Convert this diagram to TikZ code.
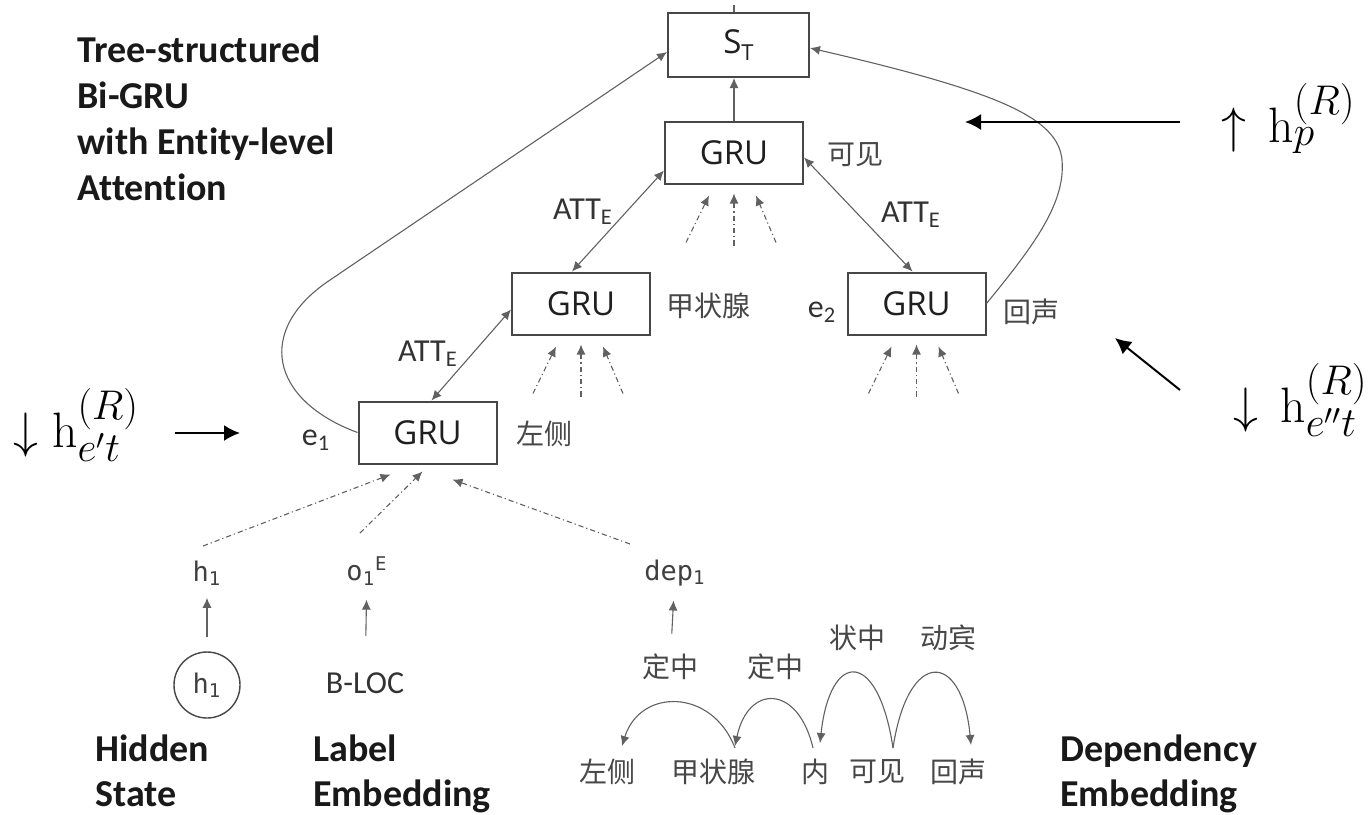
\documentclass[tikz,border=0pt]{standalone}
\usepackage[no-math]{fontspec}
\setmainfont[Ligatures={NoCommon}]{Carlito}
\newfontfamily\cjk{Noto Sans CJK SC}
\newfontfamily\osans{Open Sans}
\newfontfamily\monofam{DejaVu Sans Mono}
\usetikzlibrary{arrows.meta,calc}

\tikzset{
  grubox/.style={draw=black!72, line width=1pt, minimum width=69pt, minimum height=31pt,
    inner sep=0pt, text=black!88, font=\osans\fontsize{16.5}{18}\selectfont},
  zh/.style={text=black!72, inner sep=0pt, font=\cjk\fontsize{14}{16}\selectfont},
  lbl/.style={text=black!80, inner sep=0pt, font=\fontsize{16}{18}\selectfont},
  vec/.style={text=black!75, inner sep=0pt, font=\monofam\fontsize{13.5}{15}\selectfont},
  heading/.style={anchor=base west, inner sep=0pt, text=black!90,
    font=\bfseries\fontsize{19}{21}\selectfont},
  mathlbl/.style={anchor=base west, inner sep=0pt, font=\fontsize{28}{32}\selectfont},
  link/.style={draw=black!62, line width=0.55pt, -{Latex[length=5pt,width=4.5pt]}},
  twoway/.style={link, {Latex[length=5pt,width=4.5pt]}-{Latex[length=5pt,width=4.5pt]}},
  feed/.style={link, dash pattern=on 2.6pt off 1.5pt on 0.6pt off 1.5pt},
  bigarrow/.style={draw=black, line width=1pt, -{Latex[length=8pt,width=8pt]}},
}

\begin{document}
\begin{tikzpicture}[x=0.5pt,y=-0.5pt]
\useasboundingbox (0,0) rectangle (1370,814);

% heading, top left
\node[heading] (t1) at (77,62) {Tree-structured};
\node[heading] (t2) at (77,108) {Bi-GRU};
\node[heading] (t3) at (77,154) {with Entity-level};
\node[heading] (t4) at (77,200) {Attention};

% sentence state and GRU cells
\node[grubox, minimum width=70.5pt, minimum height=32pt] (st) at (738.5,45) {S\raisebox{-0.35ex}{\fontsize{11}{12}\selectfont T}};
\node[grubox] (gp) at (734,152.5) {GRU};
\node[grubox] (gt) at (581,303.5) {GRU};
\node[grubox] (ge) at (916.5,303.5) {GRU};
\node[grubox] (gl) at (427.5,432.5) {GRU};

% word and entity labels beside the cells
\node[zh] (wp) at (855,155) {可见};
\node[zh] (wt) at (708,306) {甲状腺};
\node[zh] (we) at (1031,312) {回声};
\node[zh] (wl) at (544,434) {左侧};
\node[lbl] (e1) at (316,440) {e\textsubscript{1}};
\node[lbl] (e2) at (822,312) {e\textsubscript{2}};

% tick on top of the sentence state
\coordinate (sttop) at (734,5);
\draw[draw=black!62, line width=0.55pt] (sttop) -- (sttop |- st.north);

% upward link to the sentence state
\draw[link] (gp.north) -- (gp.north |- st.south);

% attention links
\draw[twoway] ([xshift=-4.5pt]gt.north) -- ([yshift=7pt]gp.south west);
\draw[twoway] ([xshift=2pt]gl.north) -- ([yshift=-3pt]gt.west);
\draw[twoway] ([xshift=-2pt]ge.north) -- ([yshift=-2.5pt]gp.east);
\node[lbl] (a1) at (583,212) {ATT\textsubscript{E}};
\node[lbl] (a2) at (428,354) {ATT\textsubscript{E}};
\node[lbl] (a3) at (911,215) {ATT\textsubscript{E}};

% long links from the entity cells to the sentence state
\coordinate (lbend) at (330,280);
\draw[link] (gl.west) .. controls (270,400) and (255,330) .. (lbend)
  -- ([yshift=-3.5pt]st.west);
\coordinate (rbend) at (1062,160);
\draw[link] (ge.east) .. controls (1030,250) and (1066,205) .. (rbend)
  .. controls (1058,118) and (1000,92) .. ([yshift=-1.5pt]st.east);

% dash-dotted inputs under the upper cells
\foreach \b in {gp,gt,ge} {
  \coordinate (\b-s1) at ($(\b.south)+(-48,58)$);
  \coordinate (\b-s2) at ($(\b.south)+(0,61)$);
  \coordinate (\b-s3) at ($(\b.south)+(42,58)$);
  \coordinate (\b-e1) at ($(\b.south)+(-25,11)$);
  \coordinate (\b-e2) at ($(\b.south)+(0,9)$);
  \coordinate (\b-e3) at ($(\b.south)+(22,11)$);
  \draw[feed] (\b-s1) -- (\b-e1);
  \draw[feed] (\b-s2) -- (\b-e2);
  \draw[feed] (\b-s3) -- (\b-e3);
}

% inputs of the first entity cell
\node[vec] (h1) at (207,573) {h\textsubscript{1}};
\node[vec] (o1) at (367,571) {o\textsubscript{1}\textsuperscript{E}};
\node[vec] (dep) at (675,573) {dep\textsubscript{1}};
\coordinate (hs) at (203,546);
\coordinate (os) at (360,533);
\coordinate (ds) at (630,544);
\draw[feed] (hs) -- ($(gl.south)+(-37,10)$);
\draw[feed] (os) -- ($(gl.south)+(-5,7)$);
\draw[feed] (ds) -- ($(gl.south)+(25,15)$);

% sources of the inputs
\node[circle, draw=black!72, line width=0.7pt, minimum size=33pt, inner sep=0pt,
  vec] (hc) at (207,685) {h\textsubscript{1}};
\node[lbl] (bloc) at (365,683) {B-LOC};
\node[zh] (dz) at (670,667) {定中};
\draw[link, shorten <=7pt, shorten >=6pt] (hc) -- (h1);
\draw[link, shorten <=18pt, shorten >=7pt] (bloc) -- (o1);
\draw[link, shorten <=10pt, shorten >=7pt] (dz) -- (dep);

% dependency parse of the sentence
\node[zh] (w1) at (607,772) {左侧};
\node[zh] (w2) at (713,772) {甲状腺};
\node[zh] (w3) at (815,772) {内};
\node[zh] (w4) at (877,772) {可见};
\node[zh] (w5) at (958,772) {回声};
\node[zh] (r2) at (775,667) {定中};
\node[zh] (r3) at (857,638) {状中};
\node[zh] (r4) at (948,638) {动宾};
\coordinate (w1top) at (622,746);
\coordinate (w2top) at (735,746);
\coordinate (w2left) at (735,748);
\coordinate (w3top) at (813,748);
\coordinate (w3in) at (820,743);
\coordinate (w4top) at (893,748);
\coordinate (w5top) at (971,745);
\draw[link] (w2left) .. controls (712,688) and (640,688) .. (w1top);
\draw[link] (w3top) .. controls (798,684) and (748,684) .. (w2top);
\draw[link] (w4top) .. controls (878,648) and (830,650) .. (w3in);
\draw[link] (w4top) .. controls (908,648) and (962,650) .. (w5top);

% bottom headings
\node[heading] (b1) at (95,761) {Hidden};
\node[heading] (b2) at (95,806) {State};
\node[heading] (b3) at (313,761) {Label};
\node[heading] (b4) at (313,806) {Embedding};
\node[heading] (b5) at (1060,761) {Dependency};
\node[heading] (b6) at (1060,806) {Embedding};

% hidden-state direction labels and pointers
\node[mathlbl] (mp) at (1221,142) {$\uparrow\, \mathrm{h}_{p}^{(R)}$};
\node[mathlbl] (me2) at (1233,422) {$\downarrow\, \mathrm{h}_{e''t}^{(R)}$};
\node[mathlbl] (me1) at (13,447) {$\downarrow \mathrm{h}_{e't}^{(R)}$};
\coordinate (pa) at (1180,122);
\coordinate (pb) at (965,122);
\coordinate (qa) at (1180,390);
\coordinate (qb) at (1115,338);
\coordinate (ra) at (175,433);
\coordinate (rb) at (240,433);
\draw[bigarrow] (pa) -- (pb);
\draw[bigarrow] (qa) -- (qb);
\draw[bigarrow] (ra) -- (rb);
\end{tikzpicture}
\end{document}
